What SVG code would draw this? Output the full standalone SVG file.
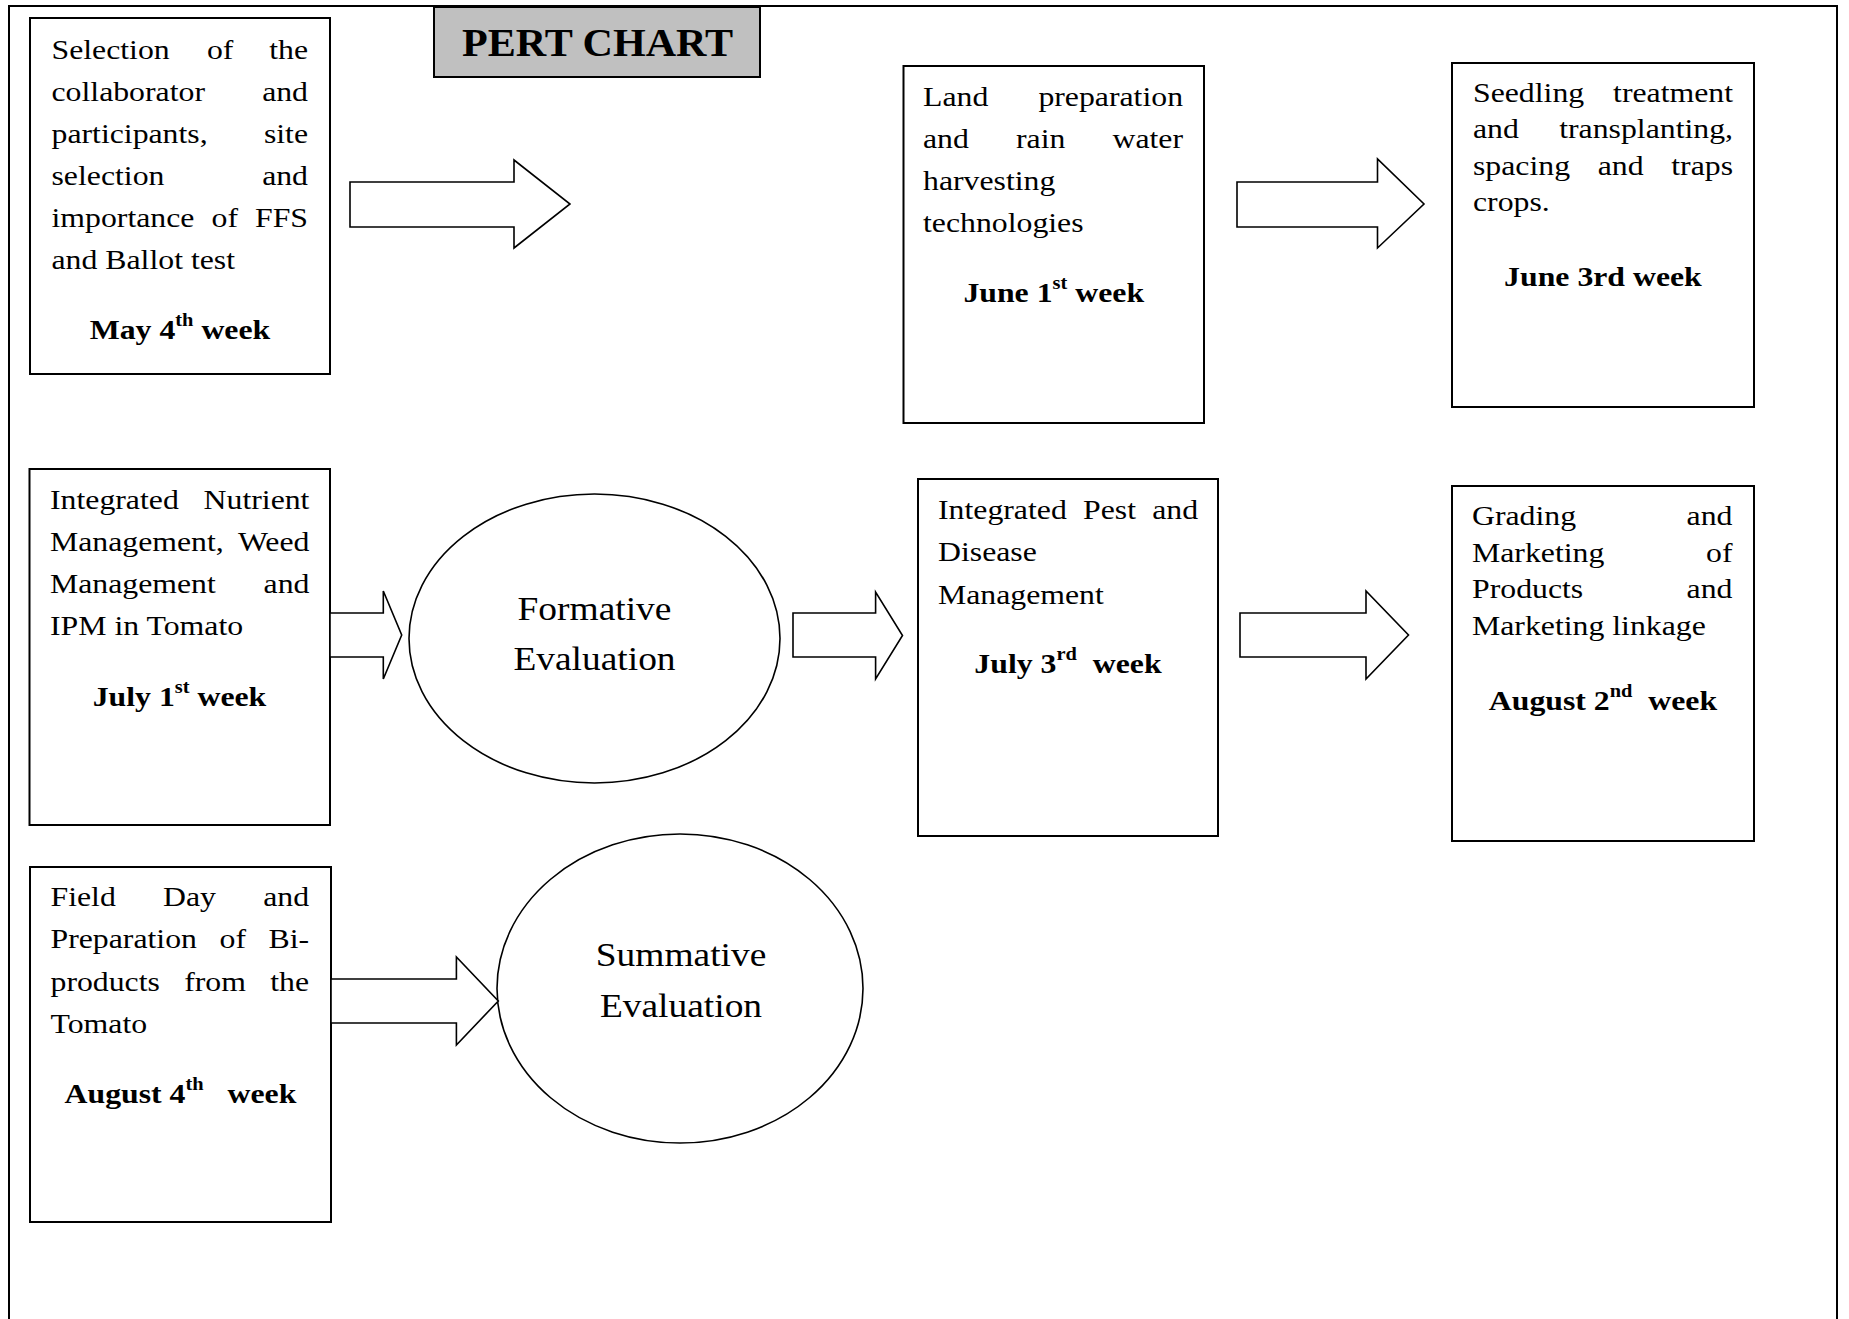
<svg xmlns="http://www.w3.org/2000/svg" width="1849" height="1319" viewBox="0 0 1849 1319">
<style>
.box{fill:#fff;stroke:#000;stroke-width:2}
.ell{fill:#fff;stroke:#000;stroke-width:1.6}
.arr{fill:#fff;stroke:#000;stroke-width:1.6;stroke-linejoin:miter}
text{font-family:"Liberation Serif","Times New Roman",serif;fill:#000}
.t text{font-size:28px}
.t text.e{text-anchor:end}
.t text.d{font-weight:bold;text-anchor:middle}
.big{font-size:33px;text-anchor:middle}
.title{font-size:40px;font-weight:bold;text-anchor:middle}
</style>
<rect x="0" y="0" width="1849" height="1319" fill="#fff"/>
<rect x="9" y="6" width="1828" height="1340" fill="none" stroke="#000" stroke-width="2"/>

<g id="title">
<rect x="434" y="7" width="326" height="70" fill="#c0c0c0" stroke="#000" stroke-width="2"/>
<text class="title" transform="translate(597.5,0) scale(1.053,1)" x="0" y="56">PERT CHART</text>
</g>

<g id="n1">
<rect class="box" x="30" y="18" width="300" height="356"/>
<g class="t" transform="translate(51.5,0) scale(1.135,1)">
<text x="0" y="59">Selection</text><text x="137" y="59">of</text><text class="e" x="226" y="59">the</text>
<text x="0" y="101">collaborator</text><text class="e" x="226" y="101">and</text>
<text x="0" y="143">participants,</text><text class="e" x="226" y="143">site</text>
<text x="0" y="185">selection</text><text class="e" x="226" y="185">and</text>
<text x="0" y="227">importance</text><text x="141" y="227">of</text><text class="e" x="226" y="227">FFS</text>
<text x="0" y="269">and Ballot test</text>
<text class="d" x="113.2" y="339">May 4<tspan font-size="18" dy="-13">th</tspan><tspan dy="13"> week</tspan></text>
</g>
</g>

<g id="n2">
<rect class="box" x="903.5" y="66" width="300.5" height="357"/>
<g class="t" transform="translate(923,0) scale(1.135,1)">
<text x="0" y="106">Land</text><text class="e" x="229.1" y="106">preparation</text>
<text x="0" y="148">and</text><text x="81.9" y="148">rain</text><text class="e" x="229.1" y="148">water</text>
<text x="0" y="190">harvesting</text>
<text x="0" y="232">technologies</text>
<text class="d" x="115.2" y="302">June 1<tspan font-size="18" dy="-13">st</tspan><tspan dy="13"> week</tspan></text>
</g>
</g>

<g id="n3">
<rect class="box" x="1452" y="63" width="302" height="344"/>
<g class="t" transform="translate(1473,0) scale(1.135,1)">
<text x="0" y="102">Seedling</text><text class="e" x="229.1" y="102">treatment</text>
<text x="0" y="138.5">and</text><text class="e" x="229.1" y="138.5">transplanting,</text>
<text x="0" y="175">spacing</text><text x="109.9" y="175">and</text><text class="e" x="229.1" y="175">traps</text>
<text x="0" y="211.5">crops.</text>
<text class="d" x="114.5" y="286">June 3rd week</text>
</g>
</g>

<g id="n4">
<rect class="box" x="29.5" y="469" width="300.5" height="356"/>
<g class="t" transform="translate(50,0) scale(1.135,1)">
<text x="0" y="509">Integrated</text><text class="e" x="228.6" y="509">Nutrient</text>
<text x="0" y="551">Management,</text><text class="e" x="228.6" y="551">Weed</text>
<text x="0" y="593">Management</text><text class="e" x="228.6" y="593">and</text>
<text x="0" y="635">IPM in Tomato</text>
<text class="d" x="114.1" y="706">July 1<tspan font-size="18" dy="-13">st</tspan><tspan dy="13"> week</tspan></text>
</g>
</g>

<g id="n5">
<ellipse class="ell" cx="594.5" cy="638.5" rx="185.5" ry="144.5"/>
<g transform="translate(594.5,0) scale(1.135,1)">
<text class="big" x="0" y="620">Formative</text>
<text class="big" x="0" y="670">Evaluation</text>
</g>
</g>

<g id="n6">
<rect class="box" x="918" y="479" width="300" height="357"/>
<g class="t" transform="translate(938,0) scale(1.135,1)">
<text x="0" y="519">Integrated</text><text x="127.8" y="519">Pest</text><text class="e" x="229.1" y="519">and</text>
<text x="0" y="561">Disease</text>
<text x="0" y="604">Management</text>
<text class="d" x="114.5" y="673.5">July 3<tspan font-size="18" dy="-13">rd</tspan><tspan dy="13">&#160; week</tspan></text>
</g>
</g>

<g id="n7">
<rect class="box" x="1452" y="486" width="302" height="355"/>
<g class="t" transform="translate(1472,0) scale(1.135,1)">
<text x="0" y="525">Grading</text><text class="e" x="229.5" y="525">and</text>
<text x="0" y="562">Marketing</text><text class="e" x="229.5" y="562">of</text>
<text x="0" y="598.5">Products</text><text class="e" x="229.5" y="598.5">and</text>
<text x="0" y="635.5">Marketing linkage</text>
<text class="d" x="115.4" y="710.5">August 2<tspan font-size="18" dy="-13">nd</tspan><tspan dy="13">&#160; week</tspan></text>
</g>
</g>

<g id="n8">
<rect class="box" x="30" y="867" width="301" height="355"/>
<g class="t" transform="translate(50.5,0) scale(1.135,1)">
<text x="0" y="906">Field</text><text x="99.2" y="906">Day</text><text class="e" x="227.8" y="906">and</text>
<text x="0" y="948.5">Preparation</text><text x="148.9" y="948.5">of</text><text class="e" x="227.8" y="948.5">Bi-</text>
<text x="0" y="991.5">products</text><text x="117.8" y="991.5">from</text><text class="e" x="227.8" y="991.5">the</text>
<text x="0" y="1033">Tomato</text>
<text class="d" x="114.5" y="1103">August 4<tspan font-size="18" dy="-13">th</tspan><tspan dy="13">&#160;&#160; week</tspan></text>
</g>
</g>

<g id="n9">
<ellipse class="ell" cx="680" cy="988.5" rx="183" ry="154.5"/>
<g transform="translate(681,0) scale(1.135,1)">
<text class="big" x="0" y="966">Summative</text>
<text class="big" x="0" y="1017">Evaluation</text>
</g>
</g>

<g id="connectors">
<polygon class="arr" points="350,182 514,182 514,160 570,204 514,248 514,227 350,227"/>
<polygon class="arr" points="1237,182 1377.5,182 1377.5,159 1424,204 1377.5,248 1377.5,227 1237,227"/>
<polygon class="arr" points="330,613 383.3,613 383.3,591 401.7,635 383.3,679 383.3,657 330,657"/>
<polygon class="arr" points="793,613 875.6,613 875.6,592 902.5,635.5 875.6,679 875.6,657 793,657"/>
<polygon class="arr" points="1240,613 1366,613 1366,591 1408.5,635 1366,679 1366,657 1240,657"/>
<polygon class="arr" points="331,979 456.4,979 456.4,957 498.3,1001 456.4,1045 456.4,1023 331,1023"/>
</g>
</svg>
